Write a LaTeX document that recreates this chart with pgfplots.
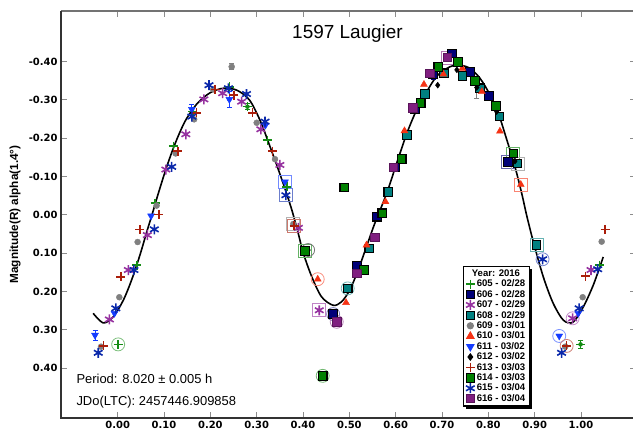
\documentclass[border=0pt]{standalone}
\usepackage{fontspec}
\setmainfont{Liberation Sans}
\newfontfamily\tickfont{DejaVu Sans}
\usepackage{pgfplots}
\pgfplotsset{compat=1.18}
\usetikzlibrary{calc,shadows}

\definecolor{c605}{RGB}{20,140,20}
\definecolor{c606}{RGB}{0,0,120}
\definecolor{c607}{RGB}{150,50,160}
\definecolor{c608}{RGB}{0,128,128}
\definecolor{c609}{RGB}{128,128,128}
\definecolor{c610}{RGB}{245,50,20}
\definecolor{c611}{RGB}{20,60,255}
\definecolor{c612}{RGB}{0,0,0}
\definecolor{c613}{RGB}{170,30,10}
\definecolor{c614}{RGB}{0,128,0}
\definecolor{c615}{RGB}{10,40,170}
\definecolor{c616}{RGB}{128,30,128}

\pgfplotsset{
  plusmark/.style={only marks, mark=+, mark size=4.5bp, line width=1.6bp, color=#1},
  sqmark/.style={only marks, mark=square*, mark size=4.3bp, mark options={fill=#1, draw=black, line width=1.1bp}},
  astmark/.style={only marks, mark=asterisk, mark size=5bp, line width=1.6bp, color=#1},
  ring/.style={forget plot, only marks, mark=o, mark size=6.5bp, line width=0.8bp, color=#1!55},
  boxmark/.style={forget plot, only marks, mark=square, mark size=6.5bp, line width=0.8bp, color=#1!60},
  ebar/.style={forget plot, only marks, mark=none, color=#1,
    error bars/.cd, y dir=both, y explicit,
    error bar style={line width=0.8bp, color=#1},
    error mark options={rotate=90, mark size=2.5bp, line width=0.8bp, color=#1}},
}

\begin{document}
\begin{tikzpicture}
\begin{axis}[
  name=ax,
  scale only axis,
  width=575bp, height=407bp,
  xmin=-0.1224, xmax=1.1187,
  ymin=-0.5315, ymax=0.530,
  y dir=reverse,
  xtick={0,0.1,0.2,0.3,0.4,0.5,0.6,0.7,0.8,0.9,1.0},
  xticklabels={0.00,0.10,0.20,0.30,0.40,0.50,0.60,0.70,0.80,0.90,1.00},
  ytick={-0.4,-0.3,-0.2,-0.1,0,0.1,0.2,0.3,0.4},
  yticklabels={-0.40,-0.30,-0.20,-0.10,0.00,0.10,0.20,0.30,0.40},
  tick align=inside,
  major tick length=6bp,
  tick style={black!45, line width=1bp},
  axis line style={draw=none},
  ticklabel style={font=\tickfont\fontsize{10}{12}\selectfont\bfseries},
  ylabel={Magnitude(R) alpha(1.4°)},
  ylabel style={font=\fontsize{11.8}{13}\selectfont\bfseries,
    at={(axis description cs:-0.0800,0.5)}, anchor=center},
  legend style={
    at={(axis description cs:0.699,0.3735)}, anchor=north west,
    draw=black, line width=1.2bp, fill=white,
    drop shadow={shadow xshift=2.5bp, shadow yshift=-2.5bp, fill=black, opacity=1},
    font=\fontsize{9.6}{10}\selectfont\bfseries,
    row sep=-2bp, inner xsep=2bp, inner ysep=1.2bp,
  },
  legend cell align=left,
  legend image code/.code={\draw[mark repeat=2,mark phase=2] plot coordinates {(0cm,0cm)(0.17cm,0cm)(0.34cm,0cm)};},
]

% Fourier fit of the composite lightcurve
\addplot[forget plot, black, line width=1.6bp, smooth, tension=0.5] coordinates {
(-0.053,0.257) (-0.031,0.282) (-0.0095,0.266) (0.012,0.223) (0.030,0.170)
(0.048,0.105) (0.0626,0.045) (0.075,-0.004) (0.0877,-0.056) (0.1057,-0.125)
(0.124,-0.186) (0.145,-0.243) (0.170,-0.288) (0.199,-0.318) (0.228,-0.330)
(0.257,-0.325) (0.284,-0.300) (0.307,-0.247) (0.329,-0.177) (0.347,-0.117)
(0.361,-0.068) (0.376,-0.012) (0.390,0.050) (0.4006,0.100) (0.419,0.162)
(0.440,0.214) (0.465,0.236) (0.483,0.227) (0.501,0.196) (0.519,0.144)
(0.537,0.083) (0.555,0.022) (0.5806,-0.056) (0.602,-0.134) (0.624,-0.212)
(0.645,-0.273) (0.667,-0.321) (0.689,-0.362) (0.717,-0.386) (0.739,-0.390)
(0.760,-0.382) (0.782,-0.356) (0.804,-0.312) (0.8215,-0.265) (0.840,-0.195)
(0.8575,-0.125) (0.872,-0.056) (0.883,0.003) (0.897,0.070) (0.9186,0.162)
(0.940,0.231) (0.962,0.275) (0.983,0.280) (1.005,0.240) (1.0266,0.183)
(1.048,0.110)
};

% highlighted observations
\addplot[ring=c605] coordinates {(0.001,0.338)};
\addplot[boxmark=c615] coordinates {(0.363,-0.051)};
\addplot[boxmark=c611] coordinates {(0.361,-0.086)};
\addplot[boxmark=c609] coordinates {(0.379,0.024)};
\addplot[boxmark=c613] coordinates {(0.381,0.029)};
\addplot[boxmark=c614] coordinates {(0.404,0.095)};
\addplot[ring=c612] coordinates {(0.411,0.092)};
\addplot[ring=c610] coordinates {(0.4317,0.168)};
\addplot[boxmark=c607] coordinates {(0.435,0.249)};
\addplot[ring=c606] coordinates {(0.465,0.259)};
\addplot[ring=c616] coordinates {(0.4727,0.279)};
\addplot[ring=c608] coordinates {(0.4964,0.192)};
\addplot[ring=c614] coordinates {(0.4425,0.420)};
\addplot[boxmark=c616] coordinates {(0.712,-0.410)};
\addplot[boxmark=c614] coordinates {(0.854,-0.160)};
\addplot[boxmark=c606] coordinates {(0.842,-0.138)};
\addplot[boxmark=c609] coordinates {(0.863,-0.134)};
\addplot[boxmark=c610] coordinates {(0.870,-0.079)};
\addplot[boxmark=c608] coordinates {(0.904,0.079)};
\addplot[ring=c615] coordinates {(0.917,0.116)};
\addplot[ring=c607] coordinates {(0.982,0.270)};
\addplot[ring=c611] coordinates {(0.953,0.316)};
\addplot[ring=c613] coordinates {(0.969,0.342)};

% error bars
\addplot[ebar=c611] coordinates {(0.241,-0.301) +- (0,0.020) (-0.049,0.314) +- (0,0.013) (0.160,-0.275) +- (0,0.012)};
\addplot[ebar=c609] coordinates {(0.246,-0.386) +- (0,0.008) (0.775,-0.332) +- (0,0.028)};
\addplot[ebar=c606] coordinates {(0.721,-0.421) +- (0,0.010) (0.516,0.133) +- (0,0.010) (0.681,-0.366) +- (0,0.012) (0.842,-0.138) +- (0,0.010)};
\addplot[ebar=c605] coordinates {(0.999,0.338) +- (0,0.010) (0.280,-0.282) +- (0,0.008)};

\addlegendimage{empty legend}
\addlegendentry{\hspace*{-5bp}Year: 2016}

% 605 - 02/28
\addplot[plusmark=c605] coordinates {
(0.241,-0.334) (0.280,-0.282) (0.162,-0.269) (0.120,-0.179) (0.0805,-0.030)
(0.041,0.131) (0.001,0.338) (0.323,-0.195) (0.365,-0.073) (0.999,0.338) (1.0395,0.131)
};
\addlegendentry{605 - 02/28}

% 606 - 02/28
\addplot[sqmark=c606] coordinates {
(0.560,0.005) (0.5985,-0.123) (0.642,-0.275) (0.681,-0.366) (0.721,-0.421)
(0.760,-0.373) (0.801,-0.310) (0.842,-0.138) (0.516,0.133) (0.465,0.259)
};
\addlegendentry{606 - 02/28}

% 607 - 02/29
\addplot[astmark=c607] coordinates {
(0.2266,-0.317) (0.186,-0.301) (0.147,-0.210) (0.104,-0.118) (0.064,0.053)
(0.023,0.144) (-0.018,0.273) (0.2676,-0.295) (0.309,-0.223) (0.350,-0.130)
(0.390,0.034) (0.435,0.249) (0.982,0.270) (1.0216,0.144)
};
\addlegendentry{607 - 02/29}

% 608 - 02/29
\addplot[sqmark=c608] coordinates {
(0.584,-0.060) (0.543,0.088) (0.4964,0.192) (0.624,-0.208) (0.663,-0.315)
(0.704,-0.369) (0.744,-0.362) (0.782,-0.330) (0.824,-0.256) (0.863,-0.134) (0.904,0.079)
};
\addlegendentry{608 - 02/29}

% 609 - 03/01
\addplot[only marks, mark=*, mark size=3bp, color=c609] coordinates {
(0.246,-0.386) (0.206,-0.327) (0.165,-0.249) (0.125,-0.160) (0.084,-0.024)
(0.043,0.071) (0.0035,0.215) (-0.036,0.344) (0.300,-0.240) (0.3395,-0.145)
(0.379,0.024) (1.0036,0.215) (1.0446,0.070) (0.966,0.344)
};
\addlegendentry{609 - 03/01}

% 610 - 03/01
\addplot[only marks, mark=triangle*, mark size=4bp, color=c610] coordinates {
(0.578,-0.034) (0.537,0.079) (0.4928,0.229) (0.4317,0.168) (0.619,-0.219)
(0.661,-0.340) (0.703,-0.367) (0.744,-0.382) (0.786,-0.321) (0.825,-0.218) (0.870,-0.079)
};
\addlegendentry{610 - 03/01}

% 611 - 03/02
\addplot[only marks, mark=triangle*, mark size=4bp, color=c611, mark options={rotate=180}] coordinates {
(0.241,-0.301) (0.160,-0.275) (0.072,0.003) (-0.007,0.257) (-0.049,0.314)
(0.319,-0.234) (0.361,-0.086) (0.994,0.257) (0.953,0.316)
};
\addlegendentry{611 - 03/02}

% 612 - 03/02
\addplot[only marks, mark=diamond*, mark size=3bp, color=c612] coordinates {
(0.411,0.092) (0.6907,-0.338) (0.732,-0.378) (0.775,-0.332) (0.818,-0.269) (0.8575,-0.140)
};
\addlegendentry{612 - 03/02}

% 613 - 03/03
\addplot[plusmark=c613] coordinates {
(0.210,-0.327) (0.251,-0.312) (0.170,-0.266) (0.1295,-0.166) (0.089,-0.001)
(0.048,0.038) (0.007,0.162) (-0.031,0.342) (0.291,-0.266) (0.3345,-0.166)
(0.381,0.029) (0.969,0.342) (1.010,0.160) (1.052,0.038)
};
\addlegendentry{613 - 03/03}

% 614 - 03/03
\addplot[sqmark=c614] coordinates {
(0.571,-0.004) (0.5316,0.144) (0.613,-0.145) (0.654,-0.291) (0.692,-0.386)
(0.734,-0.399) (0.771,-0.349) (0.8165,-0.284) (0.854,-0.160) (0.489,-0.071)
(0.404,0.095) (0.4425,0.420)
};
\addlegendentry{614 - 03/03}

% 615 - 03/04
\addplot[astmark=c615] coordinates {
(0.197,-0.338) (0.239,-0.330) (0.278,-0.315) (0.160,-0.256) (0.1165,-0.125)
(0.079,0.038) (0.035,0.144) (-0.004,0.244) (-0.042,0.360) (0.318,-0.243)
(0.363,-0.051) (0.917,0.116) (0.958,0.360) (0.996,0.244) (1.036,0.142)
};
\addlegendentry{615 - 03/04}

% 616 - 03/04
\addplot[only marks, mark=square*, mark size=4.3bp, mark options={fill=c616, draw=c616!70!black, line width=1bp}] coordinates {
(0.555,0.059) (0.595,-0.123) (0.637,-0.278) (0.674,-0.369) (0.712,-0.410)
(0.516,0.153) (0.4727,0.279)
};
\addlegendentry{616 - 03/04}

\node[font=\fontsize{19}{22}\selectfont, anchor=base] at (axis cs:0.496,-0.460) {1597 Laugier};
\node[font=\fontsize{13}{15}\selectfont, anchor=base west] at (axis cs:-0.0965,0.440) {Period: 8.020 ± 0.005 h};
\node[font=\fontsize{13}{15}\selectfont, anchor=base west] at (axis cs:-0.0965,0.4965) {JDo(LTC): 2457446.909858};
\end{axis}

% frame
\draw[line width=1.5bp, black!55] (ax.north west) -- (ax.north east) -- (ax.south east);
\draw[line width=2bp, black!80] (ax.north west) -- (ax.south west) -- (ax.south east);

\pgfresetboundingbox
\path[use as bounding box] ($(ax.south west)+(-61bp,-15bp)$) rectangle ($(ax.north east)+(-3bp,11bp)$);
\end{tikzpicture}
\end{document}
